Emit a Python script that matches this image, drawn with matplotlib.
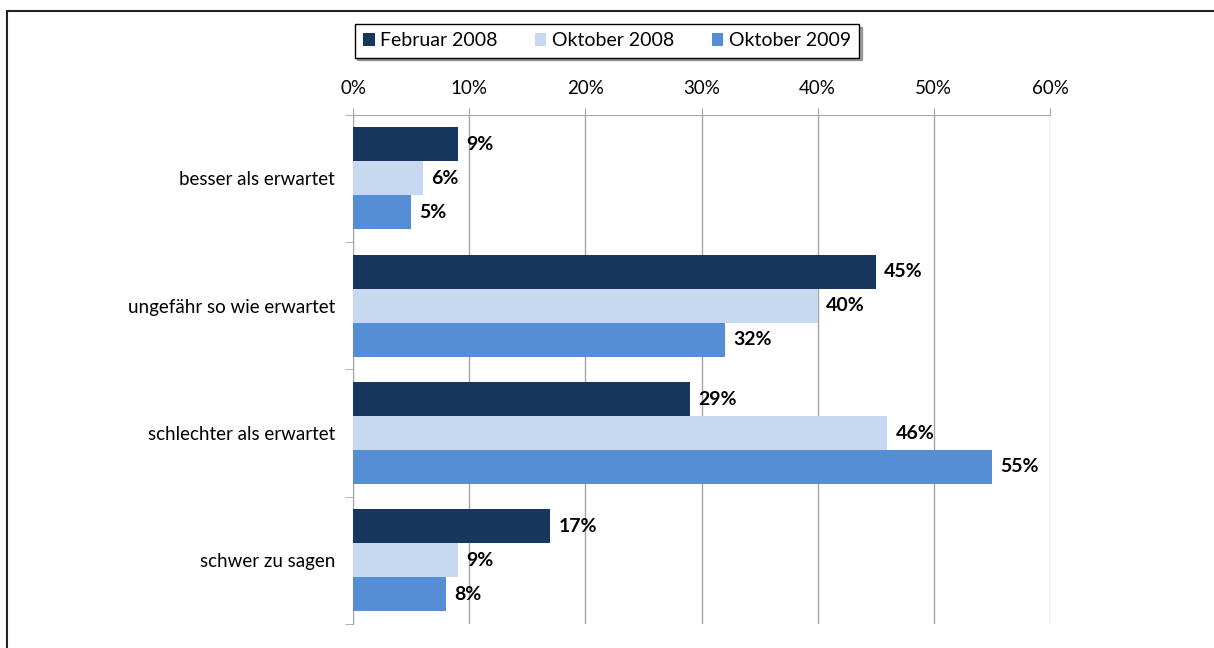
import numpy as np
import matplotlib.pyplot as plt
from matplotlib.patches import Rectangle

plt.rcParams['font.family'] = ['Lato', 'DejaVu Sans']

# data
categories = ['besser als erwartet', 'ungefähr so wie erwartet',
              'schlechter als erwartet', 'schwer zu sagen']
series_names = ['Februar 2008', 'Oktober 2008', 'Oktober 2009']
feb_2008 = [9, 45, 29, 17]
okt_2008 = [6, 40, 46, 9]
okt_2009 = [5, 32, 55, 8]
x_ticks = [0, 10, 20, 30, 40, 50, 60]

colors = ['#17375E', '#C6D9F1', '#558ED5']
grid_col = '#A6A6A6'

fig = plt.figure(figsize=(12.14, 6.48), dpi=100)
ax = fig.add_axes([353 / 1214, 1 - 624 / 648, (1050 - 353) / 1214, (624 - 114.7) / 648])

y = np.arange(len(categories))
h = 0.8 / 3
all_series = [feb_2008, okt_2008, okt_2009]
for i, (vals, name) in enumerate(zip(all_series, series_names)):
    pos = y - 0.4 + h * (i + 0.5)
    bars = ax.barh(pos, vals, height=h, color=colors[i], label=name, zorder=3)
    for b, v in zip(bars, vals):
        ax.annotate(f'{v}%', (v, b.get_y() + b.get_height() / 2),
                    xytext=(6, 0), textcoords='offset points',
                    ha='left', va='center', fontsize=14, fontweight='bold',
                    color='black')

ax.set_xlim(0, 60)
ax.set_ylim(3.5, -0.5)
ax.set_xticks(x_ticks)
ax.set_xticklabels([f'{t}%' for t in x_ticks], fontsize=13.5)
ax.xaxis.tick_top()
ax.tick_params(axis='x', length=5, color=grid_col, pad=8)
ax.grid(axis='x', color=grid_col, lw=1, zorder=0)

ax.set_yticks(y)
ax.set_yticklabels(categories, fontsize=13.5)
ax.set_yticks(np.arange(-0.5, 4, 1), minor=True)
ax.tick_params(axis='y', which='major', length=0, pad=13)
ax.tick_params(axis='y', which='minor', length=6, color=grid_col)

for s in ['right', 'bottom']:
    ax.spines[s].set_visible(False)
for s in ['left', 'top']:
    ax.spines[s].set_color(grid_col)

leg = fig.legend(loc='center', bbox_to_anchor=(607 / 1214, 1 - 41 / 648), ncol=3,
                 fontsize=14, frameon=True, shadow=True, fancybox=False,
                 edgecolor='black', handlelength=0.6, handleheight=0.6,
                 handletextpad=0.3, columnspacing=1.9, borderpad=0.42)
leg.get_frame().set_linewidth(1)

# outer frame
fig.patches.append(Rectangle((7 / 1214, -0.1), 1.2, 1 - 11 / 648 + 0.1,
                             transform=fig.transFigure, fill=False,
                             edgecolor='#222222', lw=1.5))

fig.savefig('out.png', dpi=100)
